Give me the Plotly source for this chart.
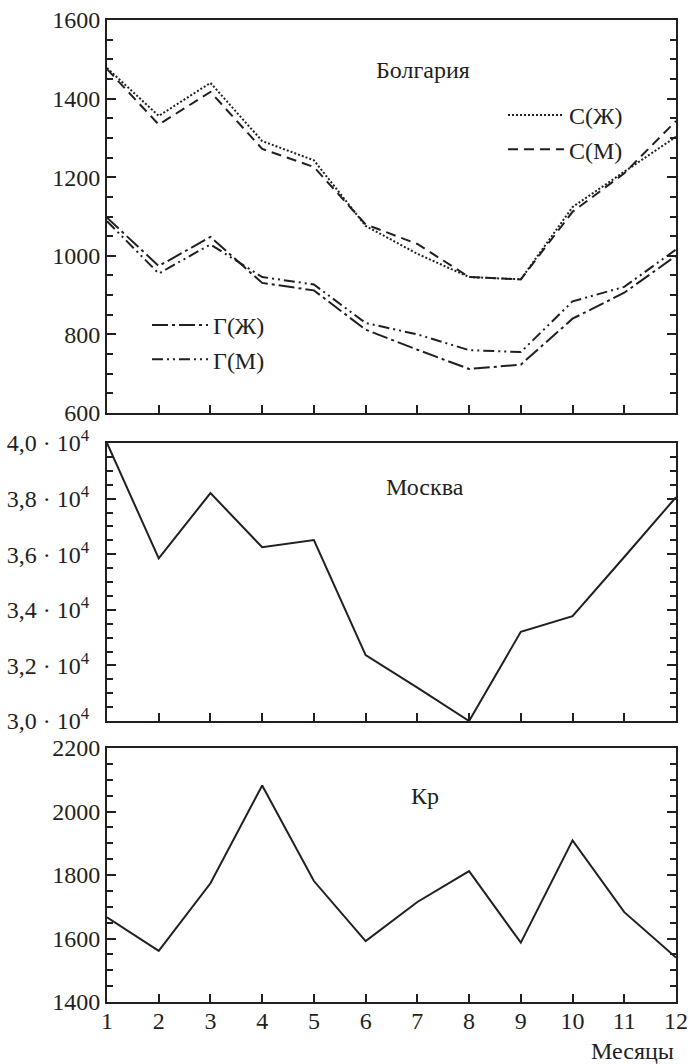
import plotly.graph_objects as go

months = list(range(1, 13))

# Болгария
c_f = [1478, 1356, 1440, 1292, 1243, 1076, 1005, 946, 940, 1124, 1214, 1303]
c_m = [1475, 1334, 1417, 1272, 1226, 1080, 1030, 946, 940, 1112, 1210, 1343]
g_f = [1097, 974, 1048, 931, 912, 812, 761, 712, 723, 840, 906, 1000]
g_m = [1088, 955, 1029, 946, 927, 829, 800, 760, 755, 884, 921, 1016]

# Москва
moscow = [40000, 35850, 38200, 36250, 36510, 32370, 31200, 30000, 33210, 33770, 35900, 38050]

# Kp
kp = [1667, 1561, 1774, 2082, 1781, 1592, 1715, 1812, 1587, 1909, 1683, 1540]

moscow_tickvals = [30000, 32000, 34000, 36000, 38000, 40000]
moscow_ticktext = ["3,0 · 10<sup>4</sup>", "3,2 · 10<sup>4</sup>", "3,4 · 10<sup>4</sup>",
                   "3,6 · 10<sup>4</sup>", "3,8 · 10<sup>4</sup>", "4,0 · 10<sup>4</sup>"]

FONT = "Liberation Serif"
INK = "#231f20"
LW = 2
FS = 24

fig = go.Figure()

fig.add_trace(go.Scatter(x=months, y=c_f, mode="lines", name="С(Ж)",
                         line=dict(color=INK, width=LW, dash="2px,2px"),
                         xaxis="x", yaxis="y", legend="legend", legendgroup="a"))
fig.add_trace(go.Scatter(x=months, y=c_m, mode="lines", name="С(М)",
                         line=dict(color=INK, width=LW, dash="10px,6px"),
                         xaxis="x", yaxis="y", legend="legend", legendgroup="b"))
fig.add_trace(go.Scatter(x=months, y=g_f, mode="lines", name="Г(Ж)",
                         line=dict(color=INK, width=LW, dash="16px,4px,3px,4px"),
                         xaxis="x", yaxis="y", legend="legend2", legendgroup="c"))
fig.add_trace(go.Scatter(x=months, y=g_m, mode="lines", name="Г(М)",
                         line=dict(color=INK, width=LW, dash="11px,4px,2px,4px,2px,4px"),
                         xaxis="x", yaxis="y", legend="legend2", legendgroup="d"))
fig.add_trace(go.Scatter(x=months, y=moscow, mode="lines", showlegend=False,
                         line=dict(color=INK, width=LW), xaxis="x2", yaxis="y2"))
fig.add_trace(go.Scatter(x=months, y=kp, mode="lines", showlegend=False,
                         line=dict(color=INK, width=LW), xaxis="x3", yaxis="y3"))

H = 1064
top_m, bot_m = 20, 62
ph = H - top_m - bot_m


def dom(p_top, p_bot):
    return [(H - bot_m - p_bot) / ph, (H - bot_m - p_top) / ph]


def py(p):
    return (H - bot_m - p) / ph


xcommon = dict(range=[1, 12], tickmode="array", tickvals=months, ticks="inside",
               ticklen=8, tickwidth=1.5, tickcolor=INK, showline=True, linecolor=INK,
               linewidth=2, mirror=True, showgrid=False, zeroline=False, automargin=False,
               tickfont=dict(family=FONT, size=FS, color=INK))
ycommon = dict(ticks="inside", ticklen=9, tickwidth=1.5, tickcolor=INK, showline=True,
               linecolor=INK, linewidth=2, mirror="ticks", showgrid=False, zeroline=False,
               automargin=False, tickfont=dict(family=FONT, size=FS, color=INK))

fig.update_layout(
    width=691, height=H,
    margin=dict(l=107, r=15, t=top_m, b=bot_m, autoexpand=False),
    paper_bgcolor="white", plot_bgcolor="white",
    font=dict(family=FONT, color=INK, size=FS),
    xaxis=dict(xcommon, domain=[0, 1], anchor="y", showticklabels=False),
    xaxis2=dict(xcommon, domain=[0, 1], anchor="y2", showticklabels=False),
    xaxis3=dict(xcommon, domain=[0, 1], anchor="y3", showticklabels=True,
                ticklabelstandoff=-4),
    yaxis=dict(ycommon, domain=dom(20, 413), anchor="x", range=[600, 1600],
               tickmode="linear", tick0=600, dtick=200,
               minor=dict(dtick=50, ticks="inside", ticklen=6, tickcolor=INK, tickwidth=1.5)),
    yaxis2=dict(ycommon, domain=dom(443, 721), anchor="x2", range=[30000, 40000],
                tickmode="array", tickvals=moscow_tickvals, ticktext=moscow_ticktext,
                ticklabelstandoff=11,
                minor=dict(dtick=500, tick0=30000, ticks="inside", ticklen=6, tickcolor=INK, tickwidth=1.5)),
    yaxis3=dict(ycommon, domain=dom(748, 1002), anchor="x3", range=[1400, 2200],
                tickmode="linear", tick0=1400, dtick=200,
                minor=dict(dtick=50, ticks="inside", ticklen=6, tickcolor=INK, tickwidth=1.5)),
    legend=dict(x=(503 - 107) / 569, y=py(93), xref="paper", yref="paper",
                xanchor="left", yanchor="top", bgcolor="rgba(0,0,0,0)",
                font=dict(family=FONT, size=FS, color=INK), itemwidth=56,
                tracegroupgap=0),
    legend2=dict(x=(147 - 107) / 569, y=py(303), xref="paper", yref="paper",
                 xanchor="left", yanchor="top", bgcolor="rgba(0,0,0,0)",
                 font=dict(family=FONT, size=FS, color=INK), itemwidth=56,
                 tracegroupgap=0),
    showlegend=True,
)

fig.add_annotation(text="Болгария", xref="x domain", yref="y domain", x=0.556, y=0.912,
                   showarrow=False, font=dict(family=FONT, size=FS, color=INK))
fig.add_annotation(text="Москва", xref="x2 domain", yref="y2 domain", x=0.558, y=0.895,
                   showarrow=False, font=dict(family=FONT, size=FS, color=INK))
fig.add_annotation(text="Кр", xref="x3 domain", yref="y3 domain", x=0.558, y=0.872,
                   showarrow=False, font=dict(family=FONT, size=FS, color=INK))
fig.add_annotation(text="Месяцы", xref="paper", yref="paper", x=1.0,
                   y=py(1051), xanchor="right", yanchor="middle",
                   showarrow=False, font=dict(family=FONT, size=FS, color=INK))

fig.write_html("out.html", config={"displayModeBar": False})

with open("out.html", "r", encoding="utf-8") as f:
    html = f.read()
html = html.replace("<body>", "<body style=\"margin:0;padding:0\">", 1)
with open("out.html", "w", encoding="utf-8") as f:
    f.write(html)
